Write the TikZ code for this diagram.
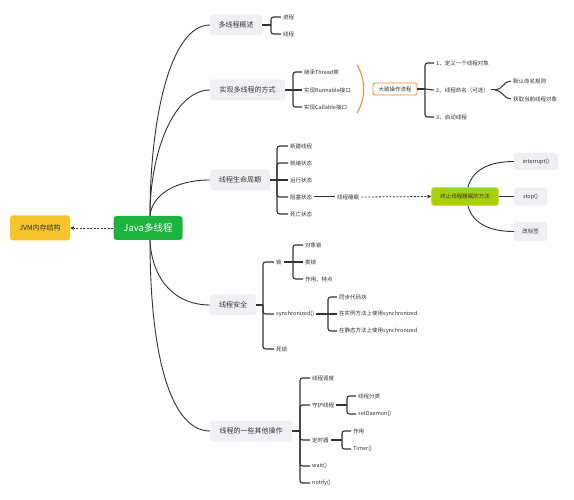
\documentclass[tikz,border=0pt]{standalone}
\usepackage{fontspec}
\setmainfont{Noto Sans CJK SC}
\usetikzlibrary{arrows.meta}
\definecolor{ln}{HTML}{333333}
\definecolor{boxg}{HTML}{EEF0F3}
\definecolor{jgreen}{HTML}{1DB33E}
\definecolor{jvmy}{HTML}{F8C42B}
\definecolor{orng}{HTML}{F0892A}
\definecolor{limeg}{HTML}{A5D10E}
\definecolor{limeb}{HTML}{F5D23C}
\begin{document}
\begin{tikzpicture}[x=1pt,y=-1pt,
 conn/.style={draw=ln,line width=1.1pt,rounded corners=2.5pt},
 curve/.style={draw=ln,line width=0.9pt},
 branch/.style={fill=boxg,rounded corners=3pt,font=\fontsize{7}{8}\selectfont,text=ln,minimum height=21pt,inner xsep=0pt,anchor=west},
 leaf/.style={font=\fontsize{5.5}{6.5}\selectfont,text=ln,inner xsep=2pt,inner ysep=1pt,anchor=west},
 gbox/.style={fill=boxg,rounded corners=2.5pt,font=\fontsize{5.5}{6.5}\selectfont,text=ln,inner sep=0pt},
 dasharrow/.style={draw=ln,line width=0.8pt,dash pattern=on 2pt off 1.5pt,-{Triangle[length=3.5pt,width=3.5pt]}},
]
\useasboundingbox (0,0) rectangle (574,500);
\fill[white] (0,0) rectangle (574,500);

% central nodes
\node[fill=jgreen,rounded corners=3pt,minimum width=69pt,minimum height=24pt,text=white,inner sep=0pt,font=\fontsize{9.5}{11}\selectfont] (java) at (148,228) {Java多线程};
\node[fill=jvmy,rounded corners=3pt,minimum width=60pt,minimum height=25pt,text=ln,inner sep=0pt,font=\fontsize{7}{8}\selectfont] (jvm) at (40,228) {JVM内存结构};
\draw[dasharrow] (java.west) -- (jvm.east);

% branches
\node[branch,minimum width=52pt] (b1) at (210,25) {多线程概述};
\node[branch,minimum width=75pt] (b2) at (210,90) {实现多线程的方式};
\node[branch,minimum width=60pt] (b3) at (210,180) {线程生命周期};
\node[branch,minimum width=46pt] (b4) at (210,305) {线程安全};
\node[branch,minimum width=82pt] (b5) at (210,431) {线程的一些其他操作};

\draw[curve] ([xshift=2pt]java.north) .. controls (150,120) and (170,25) .. (b1.west);
\draw[curve] ([xshift=2pt]java.north) .. controls (150,150) and (175,90) .. (b2.west);
\draw[curve] ([xshift=2pt]java.north) .. controls (152,195) and (175,180) .. (b3.west);
\draw[curve] ([xshift=2pt]java.south) .. controls (152,280) and (175,305) .. (b4.west);
\draw[curve] ([xshift=2pt]java.south) .. controls (150,360) and (172,431) .. (b5.west);

% branch 1
\node[leaf] (b1a) at (281,17) {进程};
\node[leaf] (b1b) at (281,34) {线程};
\draw[conn] (b1.east) -- (271,25);
\draw[conn] (271,25) |- (b1a.west);
\draw[conn] (271,25) |- (b1b.west);

% branch 2
\node[leaf] (b2a) at (302,72) {继承Thread类};
\node[leaf] (b2b) at (302,90) {实现Runnable接口};
\node[leaf] (b2c) at (302,107) {实现Callable接口};
\draw[conn] (b2.east) -- (293,90);
\draw[conn] (293,90) |- (b2a.west);
\draw[conn] (293,90) -- (b2b.west);
\draw[conn] (293,90) |- (b2c.west);
\draw[draw=orng,line width=1pt] (357,65) .. controls (366,80) and (366,98) .. (357,113);
\node[draw=orng,line width=0.8pt,fill=white,rounded corners=1.5pt,minimum width=44pt,minimum height=12pt,inner sep=0pt,text=ln,font=\fontsize{5.5}{6.5}\selectfont] (flow) at (395,89) {大致操作流程};
\node[leaf] (f1) at (434,63) {1、定义一个线程对象};
\node[leaf] (f2) at (434,90) {2、线程命名（可选）};
\node[leaf] (f3) at (434,117) {3、启动线程};
\draw[conn] (flow.east) -- (425,89);
\draw[conn] (425,89) |- (f1.west);
\draw[conn] (425,89) -- (f2.west);
\draw[conn] (425,89) |- (f3.west);
\node[leaf] (g1) at (511,81) {默认命名规则};
\node[leaf] (g2) at (511,99) {获取当前线程对象};
\draw[curve,line width=1pt] (f2.east) -- (495,90) coordinate (k2);
\draw[curve,line width=1pt] (k2) to[out=0,in=180] (g1.west);
\draw[curve,line width=1pt] (k2) to[out=0,in=180] (g2.west);

% branch 3
\node[leaf] (s1) at (288,146) {新建线程};
\node[leaf] (s2) at (288,163) {就绪状态};
\node[leaf] (s3) at (288,180) {运行状态};
\node[leaf] (s4) at (288,197) {阻塞状态};
\node[leaf] (s5) at (288,214) {死亡状态};
\draw[conn] (b3.east) -- (277,180);
\draw[conn] (277,180) |- (s1.west);
\draw[conn] (277,180) |- (s2.west);
\draw[conn] (277,180) -- (s3.west);
\draw[conn] (277,180) |- (s4.west);
\draw[conn] (277,180) |- (s5.west);
\node[leaf] (sleep) at (335,197) {线程睡眠};
\draw[curve,line width=1pt] (s4.east) -- (sleep.west);
\node[fill=limeg,draw=limeb,line width=0.8pt,rounded corners=2.5pt,minimum width=67pt,minimum height=18pt,inner sep=0pt,text=ln,font=\fontsize{5.5}{6.5}\selectfont] (stopm) at (465,196.5) {终止线程睡眠的方法};
\draw[dasharrow] (sleep.east) -- (stopm.west);
\node[gbox,minimum width=44pt,minimum height=17pt] (m1) at (536,161.5) {interrupt()};
\node[gbox,minimum width=33pt,minimum height=18pt] (m2) at (530.5,196.5) {stop()};
\node[gbox,minimum width=33pt,minimum height=19pt] (m3) at (530.5,231.5) {改标签};
\draw[curve] ([xshift=3pt]stopm.north) to[out=75,in=180] (m1.west);
\draw[curve] (stopm.east) -- (m2.west);
\draw[curve] ([xshift=3pt]stopm.south) to[out=-75,in=180] (m3.west);

% branch 4
\node[leaf] (t1) at (274,262) {锁};
\node[leaf] (t2) at (274,314) {synchronized()};
\node[leaf] (t3) at (274,349) {死锁};
\draw[conn] (b4.east) -- (263,305);
\draw[conn] (263,305) |- (t1.west);
\draw[conn] (263,305) |- (t2.west);
\draw[conn] (263,305) |- (t3.west);
\node[leaf] (u1) at (303,245) {对象锁};
\node[leaf] (u2) at (303,262) {类锁};
\node[leaf] (u3) at (303,279) {作用、特点};
\draw[conn] (t1.east) -- (293,262);
\draw[conn] (293,262) |- (u1.west);
\draw[conn] (293,262) -- (u2.west);
\draw[conn] (293,262) |- (u3.west);
\node[leaf] (v1) at (337,297) {同步代码块};
\node[leaf] (v2) at (337,314) {在实例方法上使用synchronized};
\node[leaf] (v3) at (337,331) {在静态方法上使用synchronized};
\draw[conn] (t2.east) -- (328,314);
\draw[conn] (328,314) |- (v1.west);
\draw[conn] (328,314) -- (v2.west);
\draw[conn] (328,314) |- (v3.west);

% branch 5
\node[leaf] (w1) at (310,378) {线程调度};
\node[leaf] (w2) at (310,405) {守护线程};
\node[leaf] (w3) at (310,440) {定时器};
\node[leaf] (w4) at (310,466) {wait()};
\node[leaf] (w5) at (310,483) {notify()};
\draw[conn] (b5.east) -- (300,431);
\draw[conn] (300,431) |- (w1.west);
\draw[conn] (300,431) |- (w2.west);
\draw[conn] (300,431) |- (w3.west);
\draw[conn] (300,431) |- (w4.west);
\draw[conn] (300,431) |- (w5.west);
\node[leaf] (x1) at (356,396) {线程分类};
\node[leaf] (x2) at (356,414) {setDaemon()};
\draw[conn] (w2.east) -- (347,405);
\draw[conn] (347,405) |- (x1.west);
\draw[conn] (347,405) |- (x2.west);
\node[leaf] (y1) at (351,431) {作用};
\node[leaf] (y2) at (351,449) {Timer()};
\draw[conn] (w3.east) -- (342,440);
\draw[conn] (342,440) |- (y1.west);
\draw[conn] (342,440) |- (y2.west);
\end{tikzpicture}
\end{document}
